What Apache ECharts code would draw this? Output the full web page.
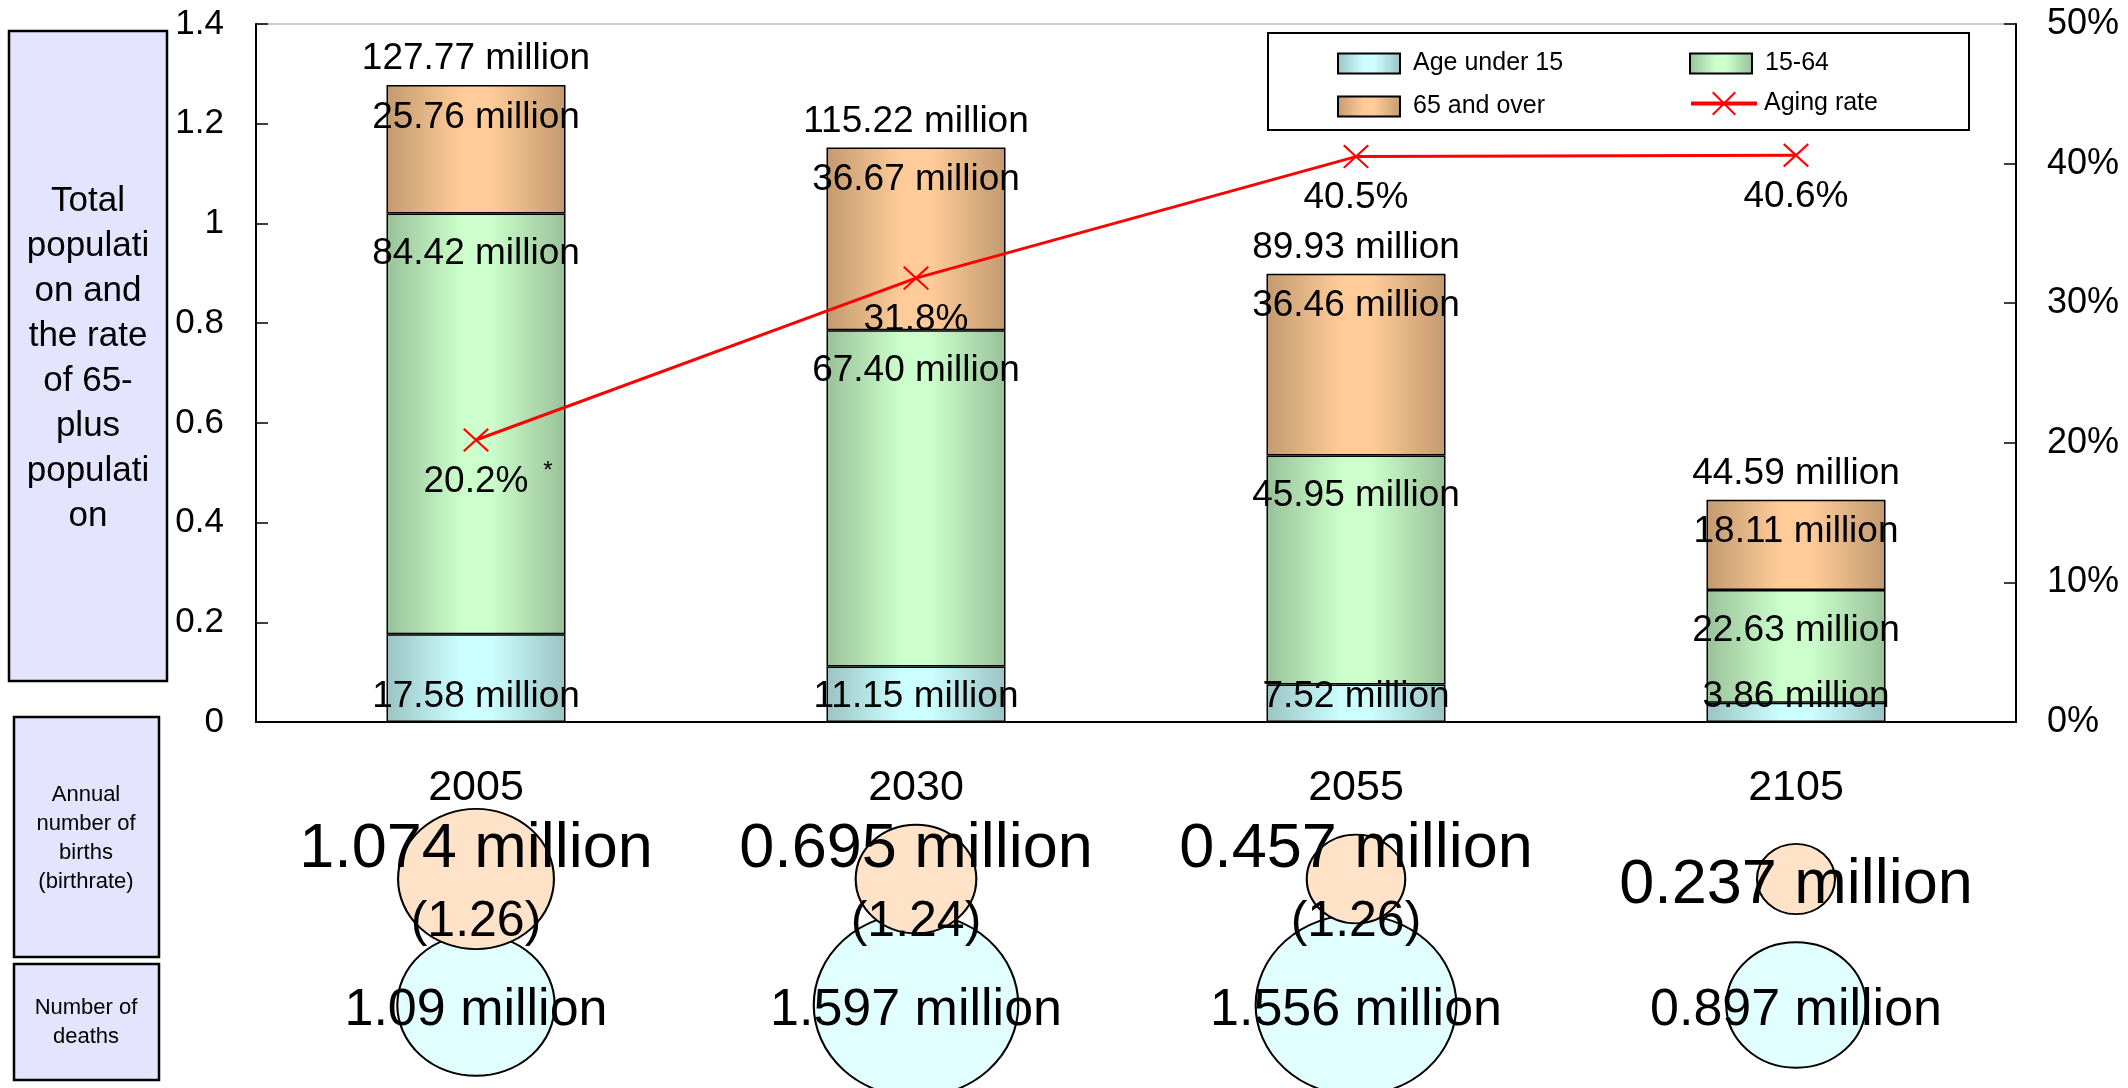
<!DOCTYPE html>
<html>
<head>
<meta charset="utf-8">
<script src="https://cdn.jsdelivr.net/npm/echarts@6/dist/echarts.min.js"></script>
<style>
  html, body { margin: 0; padding: 0; background: #fff; }
  #chart { width: 2128px; height: 1088px; }
</style>
</head>
<body>
<div id="chart"></div>
<script>
// Population by age group (millions)
const years = ['2005', '2030', '2055', '2105'];
const under15 = [17.58, 11.15, 7.52, 3.86];
const age15to64 = [84.42, 67.40, 45.95, 22.63];
const age65plus = [25.76, 36.67, 36.46, 18.11];
const totals = [127.77, 115.22, 89.93, 44.59];
// Share of population aged 65 and over (%)
const agingRate = [20.2, 31.8, 40.5, 40.6];
// Annual births, deaths (millions) and total fertility rate
const births = [1.074, 0.695, 0.457, 0.237];
const birthRate = [1.26, 1.24, 1.26, null];
const deaths = [1.09, 1.597, 1.556, 0.897];

const FONT = '"Liberation Sans", Arial, sans-serif';
const toAxis = v => v / 100; // left axis is in units of 100 million

function barGradient(edge, mid) {
  return {
    type: 'linear', x: 0, y: 0, x2: 1, y2: 0,
    colorStops: [
      { offset: 0, color: edge },
      { offset: 0.42, color: mid },
      { offset: 0.58, color: mid },
      { offset: 1, color: edge }
    ]
  };
}

const barLabel = (arr, pos, dist) => ({
  show: true, position: pos, distance: dist,
  color: '#000', fontSize: 37, fontFamily: FONT,
  formatter: p => arr[p.dataIndex].toFixed(2) + ' million'
});

// bubble diameter grows with the count it represents
const bubbleW = v => 56 + 93 * v;
const bubbleSize = v => [bubbleW(v), bubbleW(v) * 0.9];

const crossPath = 'path://M0,6 L6,0 L100,94 L94,100 Z M94,0 L100,6 L6,100 L0,94 Z';

const legendText = { fontSize: 25, lineHeight: 24, color: '#000', fontFamily: FONT, padding: [0, 0, 0, 8] };

const chart = echarts.init(document.getElementById('chart'), null, { renderer: 'canvas' });

const option = {
  animation: false,
  textStyle: { fontFamily: FONT, color: '#000' },
  grid: [
    { left: 256, right: 112, top: 24, bottom: 366, show: true, borderColor: '#999', borderWidth: 1 },
    { left: 256, right: 112, top: 816, height: 252 }
  ],
  legend: [
    {
      orient: 'vertical', left: 1332, top: 46, itemWidth: 62, itemHeight: 20, itemGap: 18,
      data: [{ name: 'Age under 15', icon: 'rect' }, { name: '65 and over', icon: 'rect' }],
      textStyle: legendText
    },
    {
      orient: 'vertical', left: 1684, top: 46, itemWidth: 62, itemHeight: 20,
      data: [{ name: '15-64', icon: 'rect' }],
      textStyle: legendText
    },
    {
      orient: 'vertical', left: 1684, top: 86, itemWidth: 66, itemHeight: 30,
      data: [{ name: 'Aging rate' }],
      lineStyle: { width: 4 },
      textStyle: Object.assign({}, legendText, { padding: [0, 0, 0, 2] })
    }
  ],
  xAxis: [
    {
      type: 'category', data: years, gridIndex: 0,
      axisLine: { lineStyle: { color: '#000', width: 2 } },
      axisTick: { inside: true, length: 12, lineStyle: { color: '#000', width: 1.5 } },
      axisLabel: { fontSize: 43, color: '#000', margin: 45, fontFamily: FONT }
    },
    { type: 'category', data: years, gridIndex: 1, show: false }
  ],
  yAxis: [
    {
      type: 'value', min: 0, max: 1.4, interval: 0.2, gridIndex: 0,
      splitLine: { show: false },
      axisLine: { show: true, lineStyle: { color: '#000', width: 2 } },
      axisTick: { show: true, inside: true, length: 12, lineStyle: { color: '#000', width: 1.5 } },
      axisLabel: { fontSize: 35, color: '#000', margin: 32, fontFamily: FONT }
    },
    {
      type: 'value', min: 0, max: 50, interval: 10, gridIndex: 0, position: 'right',
      splitLine: { show: false },
      axisLine: { show: true, lineStyle: { color: '#000', width: 2 } },
      axisTick: { show: true, inside: true, length: 12, lineStyle: { color: '#000', width: 1.5 } },
      axisLabel: { fontSize: 36, color: '#000', margin: 31, formatter: '{value}%', fontFamily: FONT }
    },
    { type: 'category', data: ['deaths', 'births'], gridIndex: 1, show: false }
  ],
  series: [
    {
      name: 'Age under 15', type: 'bar', stack: 'pop', barWidth: 179,
      data: under15.map(toAxis),
      itemStyle: { color: barGradient('#9bc3c3', '#ccffff'), borderColor: '#000', borderWidth: 1.5 },
      label: barLabel(under15, 'insideBottom', 7)
    },
    {
      name: '15-64', type: 'bar', stack: 'pop',
      data: age15to64.map(toAxis),
      itemStyle: { color: barGradient('#99c199', '#ccffcc'), borderColor: '#000', borderWidth: 1.5 },
      label: barLabel(age15to64, 'insideTop', 22)
    },
    {
      name: '65 and over', type: 'bar', stack: 'pop',
      data: age65plus.map(toAxis),
      itemStyle: { color: barGradient('#c39a70', '#ffcc99'), borderColor: '#000', borderWidth: 1.5 },
      label: barLabel(age65plus, 'insideTop', 14)
    },
    {
      name: 'Total', type: 'scatter', data: totals.map(toAxis),
      symbolSize: 1, itemStyle: { color: 'rgba(0,0,0,0)', opacity: 1 }, silent: true,
      label: {
        show: true, position: 'top', distance: 7, color: '#000', fontSize: 37, fontFamily: FONT,
        formatter: p => totals[p.dataIndex].toFixed(2) + ' million'
      }
    },
    {
      name: 'Aging rate', type: 'line', yAxisIndex: 1, data: agingRate,
      symbol: crossPath, symbolSize: [26, 24], z: 5,
      lineStyle: { color: '#ff0000', width: 3 },
      itemStyle: { color: '#ff0000' },
      label: {
        show: true, position: 'bottom', distance: 11, color: '#000', fontSize: 37, fontFamily: FONT,
        formatter: p => p.value.toFixed(1) + '%'
      },
      markPoint: {
        symbol: 'circle', symbolSize: 0,
        data: [{ coord: [0, agingRate[0]], value: '*' }],
        label: { show: true, formatter: '*', color: '#000', fontSize: 24, fontFamily: FONT, offset: [72, 31] }
      }
    },
    {
      name: 'Deaths', type: 'scatter', xAxisIndex: 1, yAxisIndex: 2, clip: false, z: 3,
      data: deaths.map((d, i) => [years[i], 'deaths']),
      symbol: 'circle',
      symbolSize: (v, p) => bubbleSize(deaths[p.dataIndex]),
      itemStyle: { color: '#e2ffff', borderColor: '#000', borderWidth: 2, opacity: 1 },
      label: {
        show: true, position: 'inside', color: '#000', fontSize: 52, fontFamily: FONT, offset: [0, 6],
        formatter: p => deaths[p.dataIndex] + ' million'
      }
    },
    {
      name: 'Births', type: 'scatter', xAxisIndex: 1, yAxisIndex: 2, clip: false, z: 4,
      data: births.map((b, i) => [years[i], 'births']),
      symbol: 'circle',
      symbolSize: (v, p) => bubbleSize(births[p.dataIndex]),
      itemStyle: { color: '#ffe3c8', borderColor: '#000', borderWidth: 2, opacity: 1 },
      label: {
        show: true, position: 'inside', color: '#000', offset: [0, 7],
        formatter: p => {
          const i = p.dataIndex;
          const top = '{n|' + births[i] + ' million}';
          return birthRate[i] == null ? top : top + '\n{r|(' + birthRate[i].toFixed(2) + ')}';
        },
        rich: {
          n: { fontSize: 63, lineHeight: 72, fontFamily: FONT, color: '#000' },
          r: { fontSize: 50, lineHeight: 72, fontFamily: FONT, color: '#000' }
        }
      }
    }
  ],
  graphic: [
    // legend frame
    { type: 'rect', z: 3, shape: { x: 1268, y: 33, width: 701, height: 97 },
      style: { fill: '#fff', stroke: '#000', lineWidth: 2 } },
    // row captions on the left
    { type: 'rect', shape: { x: 9, y: 31, width: 158, height: 650 },
      style: { fill: '#e4e4ff', stroke: '#000', lineWidth: 2.5 } },
    { type: 'text', x: 88, y: 359,
      style: { text: 'Total\npopulati\non and\nthe rate\nof 65-\nplus\npopulati\non',
        font: '35px ' + FONT, fill: '#000', align: 'center', verticalAlign: 'middle', lineHeight: 45 } },
    { type: 'rect', shape: { x: 14, y: 717, width: 145, height: 240 },
      style: { fill: '#e4e4ff', stroke: '#000', lineWidth: 2.5 } },
    { type: 'text', x: 86, y: 838,
      style: { text: 'Annual\nnumber of\nbirths\n(birthrate)',
        font: '22px ' + FONT, fill: '#000', align: 'center', verticalAlign: 'middle', lineHeight: 29 } },
    { type: 'rect', shape: { x: 14, y: 964, width: 145, height: 116 },
      style: { fill: '#e4e4ff', stroke: '#000', lineWidth: 2.5 } },
    { type: 'text', x: 86, y: 1022,
      style: { text: 'Number of\ndeaths',
        font: '22px ' + FONT, fill: '#000', align: 'center', verticalAlign: 'middle', lineHeight: 29 } }
  ]
};

chart.setOption(option);
</script>
</body>
</html>
